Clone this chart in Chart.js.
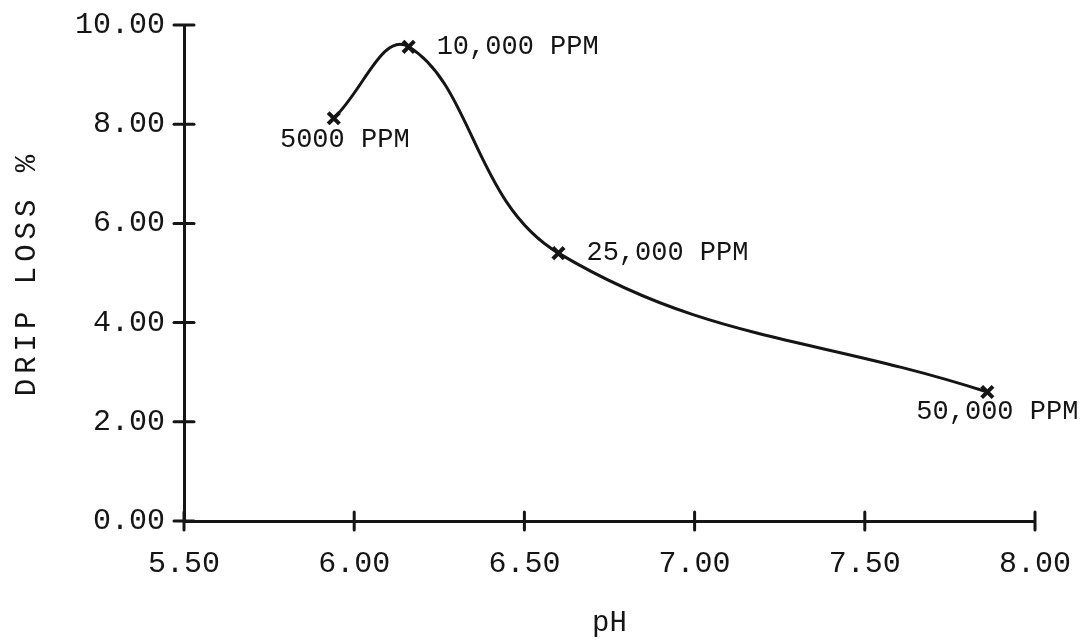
<!DOCTYPE html>
<html>
<head>
<meta charset="utf-8">
<script src="https://cdn.jsdelivr.net/npm/chart.js@4.4.1/dist/chart.umd.min.js"></script>
<style>
  html, body { margin: 0; padding: 0; background: #fff; }
  #wrap { width: 1085px; height: 643px; }
</style>
</head>
<body>
<div id="wrap"><canvas id="graphCanvas" width="1085" height="643"></canvas></div>
<script>
/* ---------- DATA ---------- */
const phValues = [5.94, 6.16, 6.60, 7.86];
const dripLoss = [8.12, 9.56, 5.40, 2.60];
const pointLabels = ["5000 PPM", "10,000 PPM", "25,000 PPM", "50,000 PPM"];
const xTicks = [5.5, 6.0, 6.5, 7.0, 7.5, 8.0];
const yTicks = [0, 2, 4, 6, 8, 10];

const FONT = "'Liberation Mono', 'DejaVu Sans Mono', monospace";
const INK = "#151515";

// where each label sits relative to its marker
const labelPlacement = [
  { dx: 11, dy: 22, align: "center" },
  { dx: 28, dy: 0, align: "left" },
  { dx: 28, dy: 0, align: "left" },
  { dx: 10, dy: 20, align: "center" }
];

/* ---------- PLUGINS ---------- */
// tick marks that cross the axis line (both sides)
const crossTicks = {
  id: "crossTicks",
  afterDraw(chart) {
    const { ctx, chartArea, scales } = chart;
    ctx.save();
    ctx.strokeStyle = INK;
    ctx.lineWidth = 3;
    ctx.lineCap = "round";
    scales.y.ticks.forEach(t => {
      const y = scales.y.getPixelForValue(t.value);
      ctx.beginPath();
      ctx.moveTo(chartArea.left - 10, y);
      ctx.lineTo(chartArea.left + 10, y);
      ctx.stroke();
    });
    scales.x.ticks.forEach(t => {
      const x = scales.x.getPixelForValue(t.value);
      ctx.beginPath();
      ctx.moveTo(x, chartArea.bottom - 9);
      ctx.lineTo(x, chartArea.bottom + 9);
      ctx.stroke();
    });
    ctx.restore();
  }
};

// concentration labels beside each point
const ppmLabels = {
  id: "ppmLabels",
  afterDatasetsDraw(chart) {
    const { ctx } = chart;
    const meta = chart.getDatasetMeta(0);
    ctx.save();
    ctx.font = "27px " + FONT;
    ctx.fillStyle = INK;
    ctx.textBaseline = "middle";
    meta.data.forEach((pt, i) => {
      const p = labelPlacement[i];
      ctx.textAlign = p.align;
      ctx.fillText(pointLabels[i], pt.x + p.dx, pt.y + p.dy);
    });
    ctx.restore();
  }
};

// typewriter-style spaced title on the y axis
function spaceTitle(s) {
  if (s._spaced) return;
  const orig = s.drawTitle;
  s.drawTitle = function () {
    this.ctx.save();
    this.ctx.letterSpacing = "5px";
    orig.call(this);
    this.ctx.restore();
  };
  s._spaced = true;
}

/* ---------- CHART ---------- */
const ctx = document.getElementById("graphCanvas").getContext("2d");

new Chart(ctx, {
  type: "line",
  data: {
    labels: phValues,
    datasets: [{
      data: phValues.map((x, i) => ({ x, y: dripLoss[i] })),
      borderColor: INK,
      borderWidth: 3,
      tension: 0.4,
      pointStyle: "crossRot",
      pointRadius: 8,
      pointBorderWidth: 4,
      pointBorderColor: INK,
      fill: false
    }]
  },
  options: {
    responsive: false,
    animation: false,
    layout: { padding: { left: 0, right: 50, top: 25, bottom: 0 } },
    plugins: {
      legend: { display: false },
      tooltip: { enabled: false }
    },
    scales: {
      x: {
        type: "linear",
        min: 5.5,
        max: 8.0,
        afterBuildTicks: s => { s.ticks = xTicks.map(v => ({ value: v })); },
        afterFit: s => { s.height = 122; s.paddingLeft = 0; s.paddingRight = 0; },
        ticks: {
          color: INK,
          font: { family: FONT, size: 30 },
          padding: 17,
          maxRotation: 0,
          callback: v => Number(v).toFixed(2)
        },
        grid: { display: false },
        border: { display: true, color: INK, width: 3 },
        title: {
          display: true,
          text: "pH",
          color: INK,
          font: { family: FONT, size: 29 },
          padding: { top: 0, bottom: 2 }
        }
      },
      y: {
        min: 0,
        max: 10,
        afterBuildTicks: s => { s.ticks = yTicks.map(v => ({ value: v })); },
        afterFit: s => { s.width = 184; s.paddingTop = 0; s.paddingBottom = 0; spaceTitle(s); },
        ticks: {
          color: INK,
          font: { family: FONT, size: 30 },
          padding: 11,
          callback: v => Number(v).toFixed(2)
        },
        grid: { display: false },
        border: { display: true, color: INK, width: 3 },
        title: {
          display: true,
          text: "DRIP LOSS %",
          color: INK,
          font: { family: FONT, size: 29 },
          padding: { top: 10, bottom: 0 }
        }
      }
    }
  },
  plugins: [crossTicks, ppmLabels]
});
</script>
</body>
</html>
